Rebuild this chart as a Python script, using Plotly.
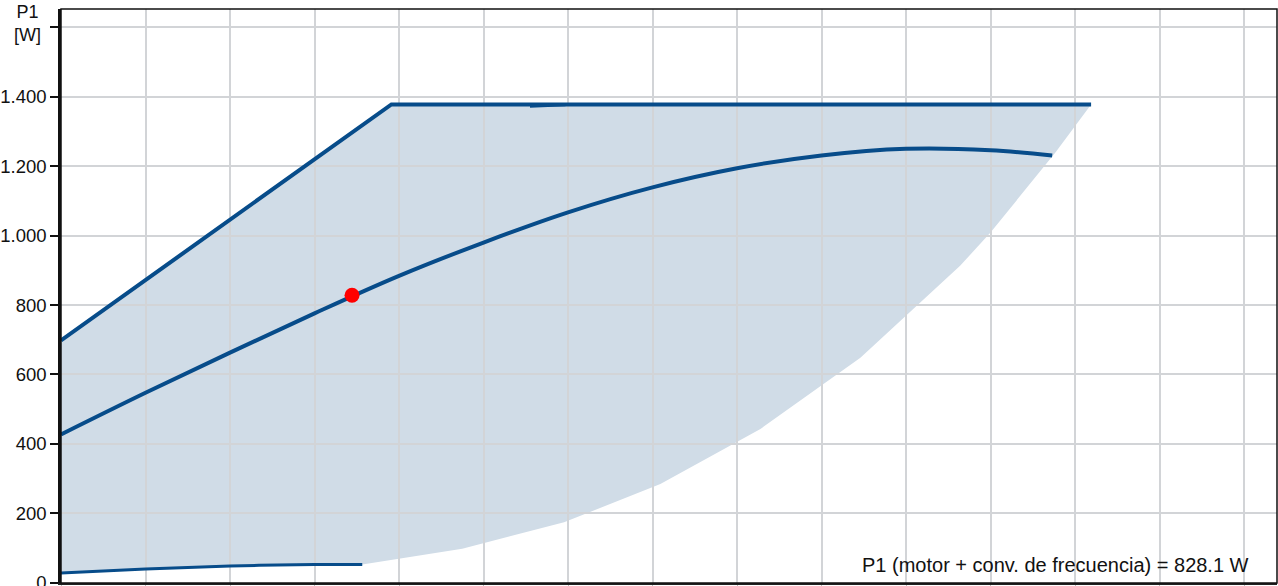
import plotly.graph_objects as go

# ---- data (x in grid units, y = P1 in W) ----
upper_x = [0.0, 3.91, 12.19]
upper_y = [698, 1378, 1378]

edge_x = [12.19, 11.77, 11.0, 10.64, 9.46, 8.277, 7.093, 5.953, 4.748, 3.565]
edge_y = [1378, 1240, 1009, 913, 648, 443, 284, 174, 97.6, 53.6]

mid_x = [0.0, 1.0, 2.0, 3.0, 4.0, 5.0, 6.0, 7.0, 8.0, 9.0, 10.0, 11.0, 11.73]
mid_y = [427, 547, 663, 776, 884, 980, 1067, 1139, 1194, 1231, 1250, 1246, 1231]

low_x = [0.0, 1.0, 2.0, 3.0, 3.565]
low_y = [28, 39.5, 48, 52, 52.5]

seg_x = [5.55, 5.97]
seg_y = [1373, 1377]

op_x = [3.444]
op_y = [828.1]

ytick_vals = [0, 200, 400, 600, 800, 1000, 1200, 1400, 1600]
ytick_text = ["0", "200", "400", "600", "800", "1.000", "1.200", "1.400", ""]

X_RANGE = [0, 14.39]
Y_RANGE = [-1, 1653]

LINE = "#074c8a"
FONT = "Liberation Sans, Arial, sans-serif"

fig = go.Figure()

# filled operating area (subplot 1, below the grid of subplot 2)
poly_x = upper_x + edge_x[1:] + low_x[::-1]
poly_y = upper_y + edge_y[1:] + low_y[::-1]
fig.add_trace(go.Scatter(x=poly_x, y=poly_y, fill="toself", fillcolor="#d0dce7",
                         mode="lines", line=dict(width=0, color="rgba(0,0,0,0)"),
                         hoverinfo="skip", showlegend=False, xaxis="x", yaxis="y"))

# curves (subplot 2)
fig.add_trace(go.Scatter(x=upper_x, y=upper_y, mode="lines",
                         line=dict(color=LINE, width=4), showlegend=False,
                         xaxis="x2", yaxis="y2"))
fig.add_trace(go.Scatter(x=seg_x, y=seg_y, mode="lines",
                         line=dict(color=LINE, width=3), showlegend=False,
                         xaxis="x2", yaxis="y2"))
fig.add_trace(go.Scatter(x=mid_x, y=mid_y, mode="lines", line_shape="spline",
                         line=dict(color=LINE, width=4), showlegend=False,
                         xaxis="x2", yaxis="y2"))
fig.add_trace(go.Scatter(x=low_x, y=low_y, mode="lines", line_shape="spline",
                         line=dict(color=LINE, width=3), showlegend=False,
                         xaxis="x2", yaxis="y2"))
fig.add_trace(go.Scatter(x=op_x, y=op_y, mode="markers",
                         marker=dict(color="#ff0000", size=15), showlegend=False,
                         xaxis="x2", yaxis="y2"))

hidden = dict(visible=False, showgrid=False, zeroline=False, automargin=False)
fig.update_layout(
    width=1278, height=586,
    margin=dict(l=61, r=1, t=9, b=3, autoexpand=False),
    paper_bgcolor="white", plot_bgcolor="rgba(0,0,0,0)",
    font=dict(family=FONT, size=18, color="#111111"),
    xaxis=dict(range=X_RANGE, domain=[0, 1], anchor="y", **hidden),
    yaxis=dict(range=Y_RANGE, domain=[0, 1], anchor="x", **hidden),
    xaxis2=dict(range=X_RANGE, domain=[0, 1], anchor="y2", dtick=1, tick0=0,
                showgrid=True, gridcolor="#d2d4d7", gridwidth=1.5,
                zeroline=False, showticklabels=False, automargin=False,
                showline=True, linecolor="#222222", linewidth=2,
                ticks="outside", ticklen=4, tickcolor="#bbbbbb"),
    yaxis2=dict(range=Y_RANGE, domain=[0, 1], anchor="x2", automargin=False,
                tickmode="array", tickvals=ytick_vals, ticktext=ytick_text,
                ticklabeloverflow="allow",
                showgrid=True, gridcolor="#d2d4d7", gridwidth=1.5,
                zeroline=False, showline=True, linecolor="#111111", linewidth=2.5,
                ticks="outside", ticklen=8, tickwidth=2, tickcolor="#111111",
                tickfont=dict(size=18.5)),
    shapes=[dict(type="rect", xref="x2 domain", yref="y2 domain",
                 x0=0, x1=1, y0=0, y1=1, line=dict(color="#111111", width=1.5),
                 layer="above")],
    annotations=[
        dict(text="P1<br>[W]", xref="paper", yref="paper", x=0, y=1,
             xanchor="center", yanchor="top", xshift=-34, yshift=9,
             showarrow=False, font=dict(size=18), align="center"),
        dict(text="P1 (motor + conv. de frecuencia) = 828.1 W", xref="paper", yref="paper",
             x=1, y=0, xanchor="right", yanchor="bottom", xshift=-26, yshift=5,
             showarrow=False, font=dict(size=20)),
    ],
)

fig.write_html("out.html", config={"displayModeBar": False},
               post_script="document.body.style.margin='0';document.body.style.overflow='hidden';")
